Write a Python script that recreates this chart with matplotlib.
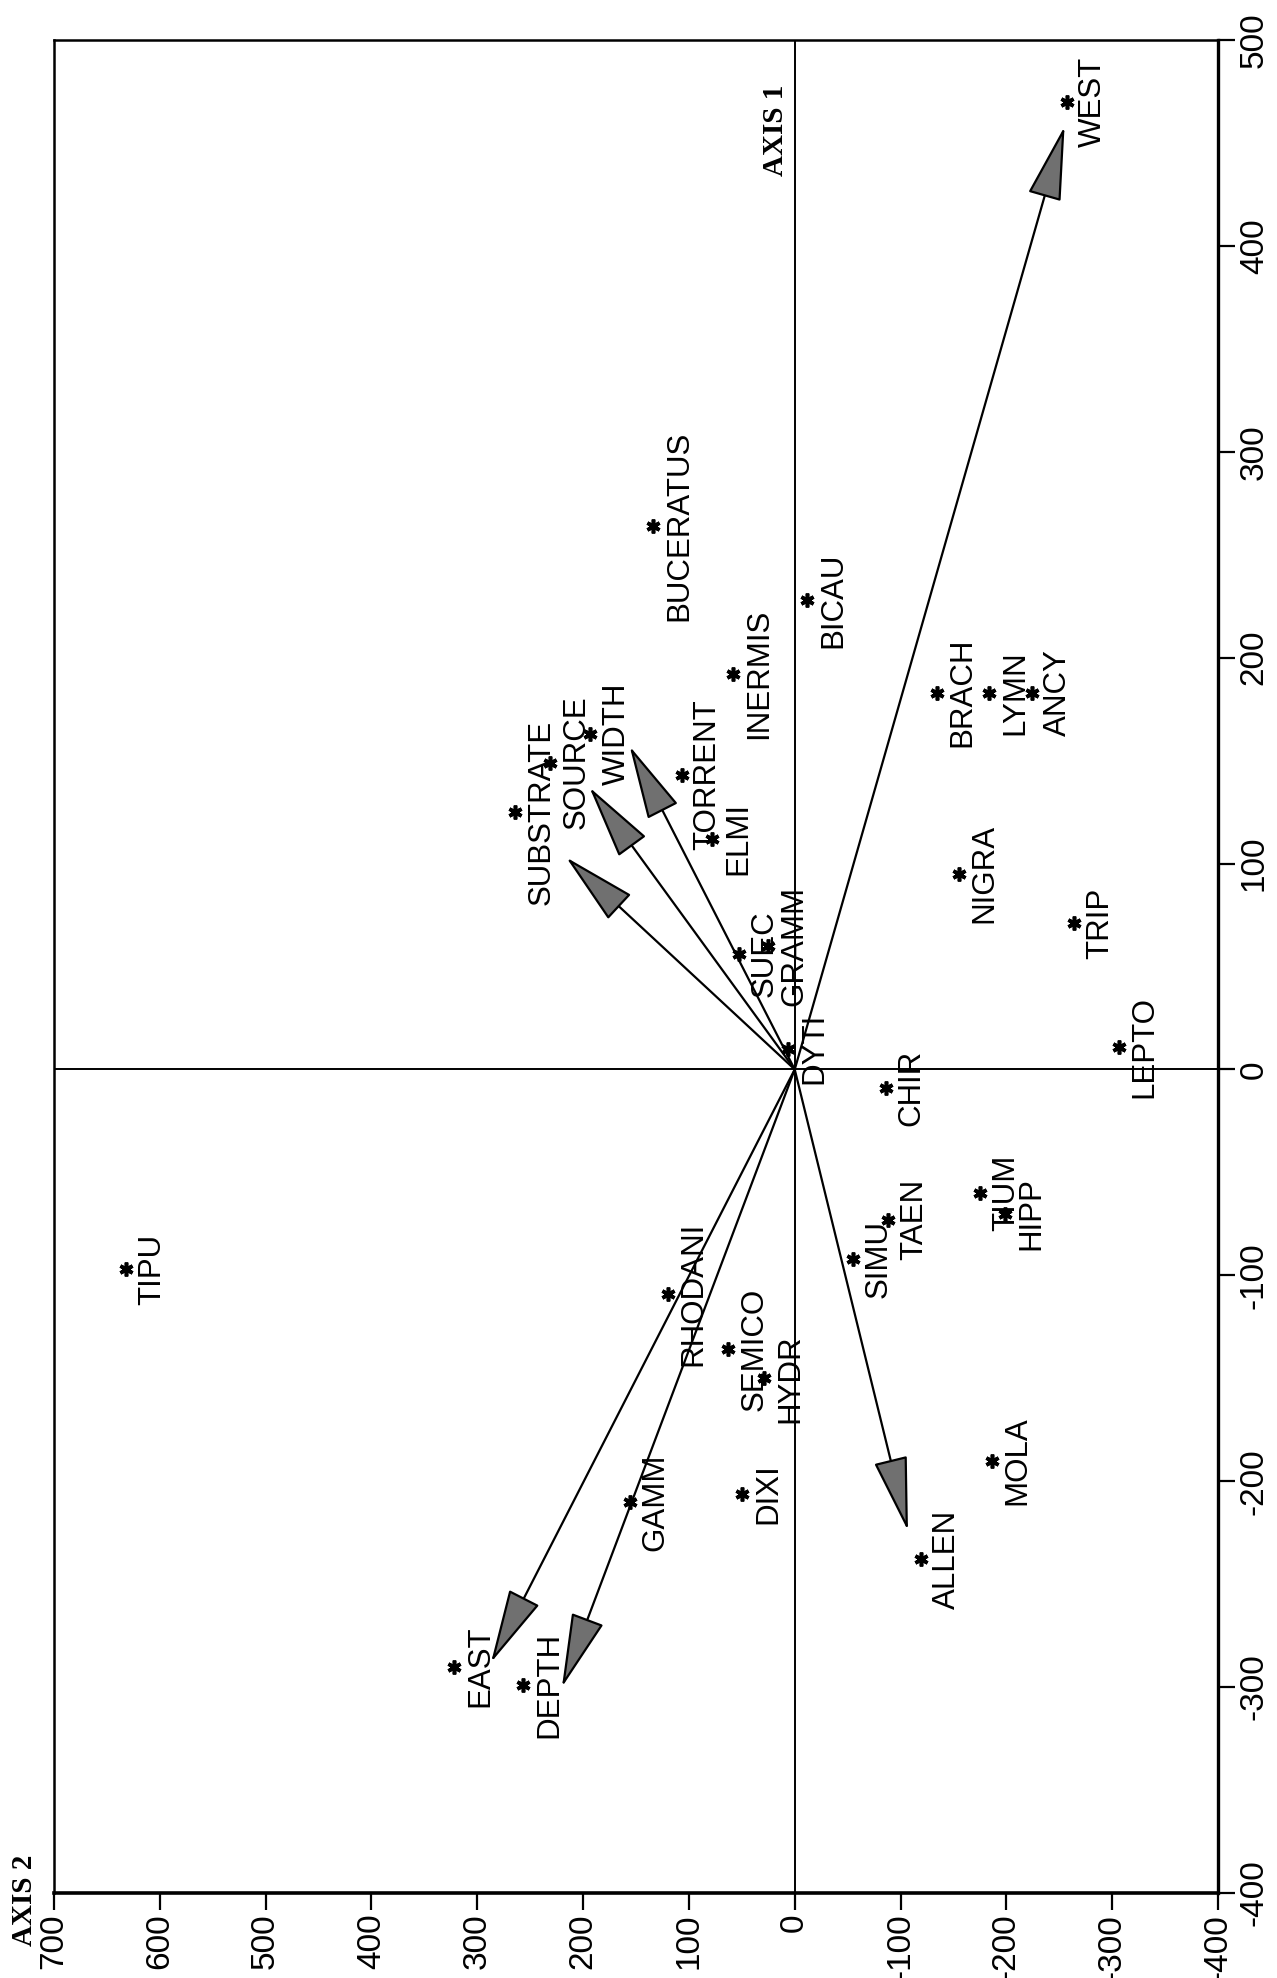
import matplotlib
matplotlib.use("Agg")
import matplotlib.pyplot as plt

# ---- data (AXIS 2 = horizontal, AXIS 1 = vertical; figure is rotated) ----
taxa = ["WEST", "TIPU", "BUCERATUS", "BICAU", "INERMIS", "BRACH", "LYMN", "ANCY",
        "WIDTH", "SOURCE", "SUBSTRATE", "TORRENT", "ELMI", "NIGRA", "TRIP", "LEPTO",
        "SUEC", "GRAMM", "DYTI", "CHIR", "TAEN", "SIMU", "TIUM", "HIPP", "RHODANI",
        "SEMICO", "HYDR", "GAMM", "DIXI", "MOLA", "ALLEN", "EAST", "DEPTH"]
axis2 = [-257, 632, 134, -12, 58, -134, -184, -224,
         193, 231, 264, 107, 78, -155, -264, -306,
         53, 25, 6, -86, -88, -55, -175, -199, 120,
         63, 29, 156, 50, -186, -119, 322, 257]
axis1 = [470, -97, 264, 228, 192, 183, 183, 183,
         163, 149, 125, 143, 112, 95, 71, 11,
         56, 60, 10, -9, -73, -92, -60, -70, -109,
         -136, -150, -210, -206, -190, -238, -290, -299]

arrow_names = ["WEST", "SUBSTRATE", "SOURCE", "WIDTH", "EAST", "DEPTH", "ALLEN"]
arrow_axis2 = [-255, 216, 194, 156, 287, 220, -107]
arrow_axis1 = [458, 103, 137, 157, -288, -300, -224]

axis2_ticks = [700, 600, 500, 400, 300, 200, 100, 0, -100, -200, -300, -400]
axis1_ticks = [500, 400, 300, 200, 100, 0, -100, -200, -300, -400]

# ---- figure ----
W, H = 1277, 1978
fig = plt.figure(figsize=(W / 100, H / 100), dpi=100)
ax = fig.add_axes([54 / W, 1 - 1893 / H, (1218 - 54) / W, (1893 - 40) / H])
ax.set_xlim(700, -400)
ax.set_ylim(-400, 500)

sans = "Liberation Sans"
serif = "Liberation Serif"

# zero lines
ax.axhline(0, color="black", lw=1.4, zorder=1)
ax.axvline(0, color="black", lw=1.4, zorder=1)

# arrows
for n, x, y in zip(arrow_names, arrow_axis2, arrow_axis1):
    ax.annotate("", xy=(x, y), xytext=(0, 0),
                arrowprops=dict(arrowstyle="-|>,head_length=2.4,head_width=0.55",
                                mutation_scale=20, facecolor="#707070",
                                edgecolor="black", lw=1.6,
                                shrinkA=0, shrinkB=0),
                zorder=3)

# points and labels
ax.plot(axis2, axis1, linestyle="none", marker=(6, 2, 0), markersize=10,
        markeredgewidth=2.6, color="black", zorder=4)
for n, x, y in zip(taxa, axis2, axis1):
    ax.annotate(n, xy=(x, y), xytext=(8, 0), textcoords="offset points",
                rotation=90, rotation_mode="anchor", ha="center", va="top",
                fontsize=22.5, family=sans, zorder=5)

# AXIS 1 label
ax.annotate("AXIS 1", xy=(0, 456), xytext=(-4, 0), textcoords="offset points",
            rotation=90, rotation_mode="anchor", ha="center", va="bottom",
            fontsize=21, family=serif, fontweight="bold")

# AXIS 2 label
fig.text(24 / W, 1 - 1900 / H, "AXIS 2", rotation=90, ha="center", va="center",
         fontsize=21, family=serif, fontweight="bold")

# axes styling
ax.set_xticks(axis2_ticks)
ax.set_xticklabels([str(t) for t in axis2_ticks])
ax.set_yticks(axis1_ticks)
ax.set_yticklabels([str(t) for t in axis1_ticks])
ax.yaxis.tick_right()
ax.tick_params(axis="x", direction="out", length=12, width=1.6, labelsize=24,
               labelrotation=90, pad=3)
ax.tick_params(axis="y", direction="out", length=12, width=1.6, labelsize=24,
               labelrotation=90, pad=3)
for lab in ax.get_xticklabels():
    lab.set_family(sans)
for lab in ax.get_yticklabels():
    lab.set_family(sans)
    lab.set_va("center")
    lab.set_ha("left")

ax.spines["bottom"].set_linewidth(2.6)
ax.spines["right"].set_linewidth(2.4)
ax.spines["left"].set_linewidth(1.8)
ax.spines["top"].set_linewidth(1.8)

fig.savefig("out.png", dpi=100)
